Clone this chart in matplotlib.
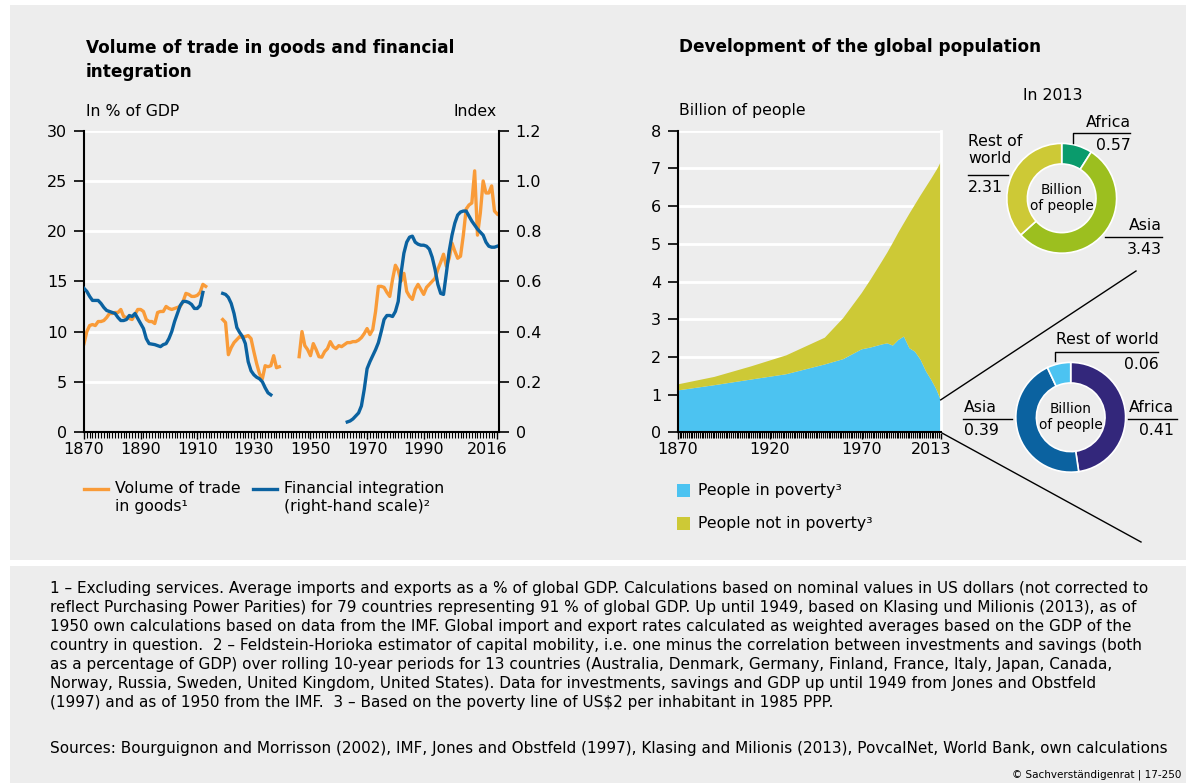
import numpy as np
import matplotlib
matplotlib.use('Agg')
import matplotlib.pyplot as plt
import matplotlib.transforms as mtransforms
from matplotlib.lines import Line2D
from matplotlib.patches import Rectangle

plt.rcParams['font.family'] = ['DejaVu Sans']

# Volume of trade in goods, in % of GDP (three periods with gaps)
trade_years_1 = np.arange(1870, 1914)
trade_1 = [8.8, 10.0, 10.6, 10.7, 10.6, 11.0, 11.0, 11.1, 11.4, 11.8,
           11.8, 11.9, 11.9, 12.2, 11.5, 11.4, 11.3, 11.2, 11.7, 12.2,
           12.2, 12.0, 11.2, 11.0, 11.0, 10.8, 11.9, 12.0, 12.0, 12.5,
           12.3, 12.2, 12.3, 12.4, 12.5, 13.0, 13.8, 13.7, 13.5, 13.5,
           13.6, 13.9, 14.7, 14.5]
trade_years_2 = np.arange(1919, 1940)
trade_2 = [11.2, 10.9, 7.7, 8.4, 8.9, 9.2, 9.5, 9.4, 9.5, 9.6,
           9.3, 8.0, 6.8, 5.8, 5.3, 6.6, 6.5, 6.6, 7.6, 6.4, 6.5]
trade_years_3 = np.arange(1946, 2017)
trade_3 = [7.5, 10.0, 8.6, 8.2, 7.6, 8.8, 8.2, 7.5, 7.45, 8.0,
           8.3, 9.0, 8.5, 8.3, 8.6, 8.5, 8.7, 8.9, 8.9, 9.0,
           9.0, 9.15, 9.4, 9.8, 10.3, 9.7, 10.2, 12.0, 14.5, 14.5,
           14.4, 13.9, 13.5, 15.2, 16.6, 16.1, 15.0, 15.8, 14.0, 13.5,
           13.2, 14.2, 14.7, 14.2, 13.7, 14.4, 14.7, 15.0, 15.3, 16.2,
           16.9, 17.7, 16.5, 17.3, 18.8, 18.0, 17.3, 17.5, 19.6, 22.2,
           22.6, 22.8, 26.0, 19.6, 21.8, 25.0, 23.8, 23.8, 24.5, 22.0,
           21.7]

# Financial integration (Feldstein-Horioka index, right-hand scale)
fin_years_1 = np.arange(1870, 1913)
fin_1 = [0.572, 0.560, 0.540, 0.524, 0.524, 0.524, 0.512, 0.496, 0.484, 0.480,
         0.476, 0.472, 0.456, 0.444, 0.444, 0.448, 0.464, 0.460, 0.472, 0.452,
         0.432, 0.412, 0.372, 0.352, 0.350, 0.348, 0.344, 0.340, 0.348, 0.352,
         0.372, 0.400, 0.440, 0.472, 0.504, 0.520, 0.520, 0.516, 0.508, 0.492,
         0.492, 0.504, 0.556]
fin_years_2 = np.arange(1919, 1937)
fin_2 = [0.552, 0.548, 0.536, 0.512, 0.472, 0.416, 0.396, 0.380, 0.352, 0.280,
         0.244, 0.228, 0.218, 0.212, 0.200, 0.176, 0.156, 0.148]
fin_years_3 = np.arange(1963, 2017)
fin_3 = [0.040, 0.044, 0.052, 0.064, 0.076, 0.104, 0.170, 0.252, 0.280, 0.304,
         0.328, 0.356, 0.400, 0.448, 0.464, 0.464, 0.460, 0.480, 0.520, 0.632,
         0.712, 0.756, 0.776, 0.780, 0.756, 0.748, 0.744, 0.744, 0.740, 0.728,
         0.696, 0.648, 0.588, 0.552, 0.548, 0.632, 0.720, 0.784, 0.832, 0.864,
         0.876, 0.880, 0.880, 0.860, 0.840, 0.824, 0.808, 0.796, 0.784, 0.756,
         0.740, 0.736, 0.736, 0.740]

# Global population, billion of people
pop_years = [1870, 1890, 1910, 1929, 1950, 1960, 1970, 1975, 1981, 1984, 1987,
             1990, 1993, 1996, 1999, 2002, 2005, 2008, 2010, 2011, 2012, 2013]
poor = [1.11, 1.25, 1.40, 1.54, 1.80, 1.94, 2.20, 2.25, 2.33, 2.36, 2.30,
        2.45, 2.54, 2.23, 2.14, 1.93, 1.62, 1.38, 1.20, 1.10, 0.98, 0.86]
not_poor = [0.16, 0.22, 0.35, 0.50, 0.71, 1.09, 1.49, 1.81, 2.20, 2.41, 2.73,
            2.85, 3.01, 3.57, 3.90, 4.35, 4.89, 5.36, 5.70, 5.88, 6.09, 6.31]

# 2013 breakdown by region
regions = ['Africa', 'Asia', 'Rest of world']
not_poor_2013 = [0.57, 3.43, 2.31]
poor_2013 = [0.41, 0.39, 0.06]

orange = '#f99b38'
blue = '#0b62a0'
sky = '#4cc3f1'
olive = '#cdc936'
panel = '#ededed'

W, H = 1186, 783
fig = plt.figure(figsize=(W / 100, H / 100), dpi=100, facecolor='white')


def fx(x):
    return x / W


def fy(y):
    return 1 - y / H


# grey panels
fig.add_artist(Rectangle((fx(10), fy(560)), 1 - fx(10), 555 / H, transform=fig.transFigure,
                         facecolor=panel, edgecolor='none', zorder=0))
fig.add_artist(Rectangle((fx(10), 0), 1 - fx(10), fy(566), transform=fig.transFigure,
                         facecolor=panel, edgecolor='none', zorder=0))

tick_fs = 11.5
lab_fs = 11.3
shift_left = mtransforms.ScaledTranslation(-10 / 100, 0, fig.dpi_scale_trans)

# ---- left: trade and financial integration ----
ax1 = fig.add_axes([fx(84), fy(432), (499 - 84) / W, (432 - 130.7) / H])
ax1.set_facecolor('none')
ax1.set_xlim(1870, 2016.6)
ax1.set_ylim(0, 30)
ax1.set_yticks(range(0, 31, 5))
ax1.grid(axis='y', color='white', lw=2)
ax1.set_axisbelow(True)
for s in ['top', 'right']:
    ax1.spines[s].set_visible(False)
for s in ['left', 'bottom']:
    ax1.spines[s].set_linewidth(1.5)
ax1.set_xticks([1870, 1890, 1910, 1930, 1950, 1970, 1990, 2016])
ax1.set_xticks(np.arange(1870, 2017), minor=True)
ax1.tick_params(axis='x', which='major', length=5, width=1, labelsize=tick_fs, pad=2)
ax1.tick_params(axis='x', which='minor', length=4, width=0.8)
ax1.tick_params(axis='y', length=7, width=1.2, labelsize=tick_fs, pad=5)
ax1.get_xticklabels()[-1].set_transform(ax1.get_xticklabels()[-1].get_transform() + shift_left)

trade_line = None
for yrs, vals in [(trade_years_1, trade_1), (trade_years_2, trade_2), (trade_years_3, trade_3)]:
    trade_line, = ax1.plot(yrs, vals, color=orange, lw=2.4, solid_joinstyle='round')

ax2 = ax1.twinx()
ax2.set_ylim(0, 1.2)
ax2.set_yticks(np.arange(0, 1.21, 0.2))
ax2.yaxis.set_major_formatter(lambda v, p: '0' if abs(v) < 1e-9 else f'{v:.1f}')
for s in ['top', 'left', 'bottom']:
    ax2.spines[s].set_visible(False)
ax2.spines['right'].set_linewidth(1.5)
ax2.tick_params(axis='y', length=7, width=1.2, labelsize=tick_fs, pad=5)
fin_line = None
for yrs, vals in [(fin_years_1, fin_1), (fin_years_2, fin_2), (fin_years_3, fin_3)]:
    fin_line, = ax2.plot(yrs, vals, color=blue, lw=2.4, solid_joinstyle='round')

fig.text(fx(86), fy(60), 'Volume of trade in goods and financial\nintegration', fontsize=12.2,
         fontweight='bold', ha='left', va='center', linespacing=1.45)
fig.text(fx(86), fy(111), 'In % of GDP', fontsize=lab_fs, ha='left', va='center')
fig.text(fx(497), fy(111), 'Index', fontsize=lab_fs, ha='right', va='center')

# legend, left chart
for x0, line, label in [(84, trade_line, 'Volume of trade\nin goods¹'),
                        (253, fin_line, 'Financial integration\n(right-hand scale)²')]:
    fig.add_artist(Line2D([fx(x0), fx(x0 + 24)], [fy(489), fy(489)], transform=fig.transFigure,
                          color=line.get_color(), lw=2.4))
    fig.text(fx(x0 + 31), fy(481), label, fontsize=lab_fs, ha='left', va='top', linespacing=1.25)

# ---- right: global population ----
ax3 = fig.add_axes([fx(677.7), fy(432.3), 263 / W, (432.3 - 130.7) / H])
ax3.set_facecolor('none')
areas = ax3.stackplot(pop_years, poor, not_poor, colors=[sky, olive], lw=0)
ax3.set_xlim(1870, 2013)
ax3.set_ylim(0, 8)
ax3.set_yticks(range(0, 9))
ax3.grid(axis='y', color='white', lw=2)
ax3.set_axisbelow(True)
ax3.spines['top'].set_visible(False)
ax3.spines['right'].set_color('white')
ax3.spines['right'].set_linewidth(2)
for s in ['left', 'bottom']:
    ax3.spines[s].set_linewidth(1.5)
ax3.set_xticks([1870, 1920, 1970, 2013])
ax3.set_xticks(np.arange(1870, 2014), minor=True)
ax3.tick_params(axis='x', which='major', length=5, width=1, labelsize=tick_fs, pad=2)
ax3.tick_params(axis='x', which='minor', length=4, width=0.8)
ax3.tick_params(axis='y', length=7, width=1.2, labelsize=tick_fs, pad=5)
ax3.get_xticklabels()[-1].set_transform(ax3.get_xticklabels()[-1].get_transform() + shift_left)

fig.text(fx(679), fy(47), 'Development of the global population', fontsize=12.2,
         fontweight='bold', ha='left', va='center')
fig.text(fx(679), fy(111), 'Billion of people', fontsize=lab_fs, ha='left', va='center')

for yc, poly, label in [(491, areas[0], 'People in poverty³'), (523.5, areas[1], 'People not in poverty³')]:
    fig.add_artist(Rectangle((fx(677), fy(yc + 6.5)), 13 / W, 13 / H, transform=fig.transFigure,
                             facecolor=poly.get_facecolor()[0], edgecolor='none'))
    fig.text(fx(698), fy(yc), label, fontsize=lab_fs, ha='left', va='center')


# ---- donuts for 2013 ----
def donut(cx, cy, values, colors):
    r = 56
    ax = fig.add_axes([fx(cx - r), fy(cy + r), 2 * r / W, 2 * r / H])
    ax.pie(values, colors=colors, startangle=90, counterclock=False, radius=1,
           wedgeprops=dict(width=0.375, edgecolor='white', linewidth=1.2))
    ax.set_xlim(-1.02, 1.02)
    ax.set_ylim(-1.02, 1.02)
    ax.set_aspect('equal')
    ax.text(0, 0, 'Billion\nof people', ha='center', va='center', fontsize=9.8, linespacing=1.2)
    return ax


donut(1061.7, 198.3, not_poor_2013, ['#0a9b6c', '#9cbf1f', olive])
donut(1070.7, 417.3, poor_2013, ['#33277b', blue, sky])


def callout(name, value, xt, yname, yline, yval, x0, x1, ha, tick=None):
    fig.text(fx(xt), fy(yname), name, fontsize=lab_fs, ha=ha, va='center', linespacing=1.2)
    fig.text(fx(xt), fy(yval), f'{value:.2f}', fontsize=lab_fs, ha=ha, va='center')
    xs, ys = [x0, x1], [yline, yline]
    if tick is not None:
        xs, ys = [x0, x0, x1], [tick, yline, yline]
    fig.add_artist(Line2D([fx(v) for v in xs], [fy(v) for v in ys], transform=fig.transFigure,
                          color='black', lw=1))


fig.text(fx(1053), fy(96), 'In 2013', fontsize=lab_fs, ha='center', va='center')
callout(regions[0], not_poor_2013[0], 1131, 122.5, 133.3, 145, 1072.7, 1130, 'right', tick=143)
callout(regions[1], not_poor_2013[1], 1162, 225.7, 237.3, 250, 1105, 1162, 'right')
callout('Rest of\nworld', not_poor_2013[2], 968, 150, 175, 188, 968, 1008, 'left')

callout(regions[2], poor_2013[2], 1159, 339.3, 352.3, 364.3, 1055, 1158, 'right', tick=360.7)
callout(regions[1], poor_2013[1], 964, 407.3, 419.3, 431, 963, 1012, 'left')
callout(regions[0], poor_2013[0], 1174, 407.3, 419.3, 431, 1128, 1177, 'right')

# connector lines from the 2013 poverty bar
to_fig = ax3.transData + fig.transFigure.inverted()
top_start = to_fig.transform((2013, poor[-1]))
bot_start = to_fig.transform((2013, 0))
fig.add_artist(Line2D([top_start[0], fx(1136)], [top_start[1], fy(271)], transform=fig.transFigure,
                      color='black', lw=1))
fig.add_artist(Line2D([bot_start[0], fx(1141)], [bot_start[1], fy(542)], transform=fig.transFigure,
                      color='black', lw=1))

# ---- footnotes ----
notes = ("1 – Excluding services. Average imports and exports as a % of global GDP. Calculations based on nominal values in US dollars (not corrected to\n"
         "reflect Purchasing Power Parities) for 79 countries representing 91 % of global GDP. Up until 1949, based on Klasing und Milionis (2013), as of\n"
         "1950 own calculations based on data from the IMF. Global import and export rates calculated as weighted averages based on the GDP of the\n"
         "country in question.  2 – Feldstein-Horioka estimator of capital mobility, i.e. one minus the correlation between investments and savings (both\n"
         "as a percentage of GDP) over rolling 10-year periods for 13 countries (Australia, Denmark, Germany, Finland, France, Italy, Japan, Canada,\n"
         "Norway, Russia, Sweden, United Kingdom, United States). Data for investments, savings and GDP up until 1949 from Jones and Obstfeld\n"
         "(1997) and as of 1950 from the IMF.  3 – Based on the poverty line of US\\$2 per inhabitant in 1985 PPP.")
fig.text(fx(50), fy(581), notes, fontsize=11.0, ha='left', va='top', linespacing=1.33)
fig.text(fx(50), fy(748), 'Sources: Bourguignon and Morrisson (2002), IMF, Jones and Obstfeld (1997), '
         'Klasing and Milionis (2013), PovcalNet, World Bank, own calculations',
         fontsize=11.0, ha='left', va='center')
fig.text(fx(1181), fy(775), '© Sachverständigenrat | 17-250', fontsize=7.5, ha='right', va='center')

fig.savefig('out.png', dpi=100, facecolor='white')
